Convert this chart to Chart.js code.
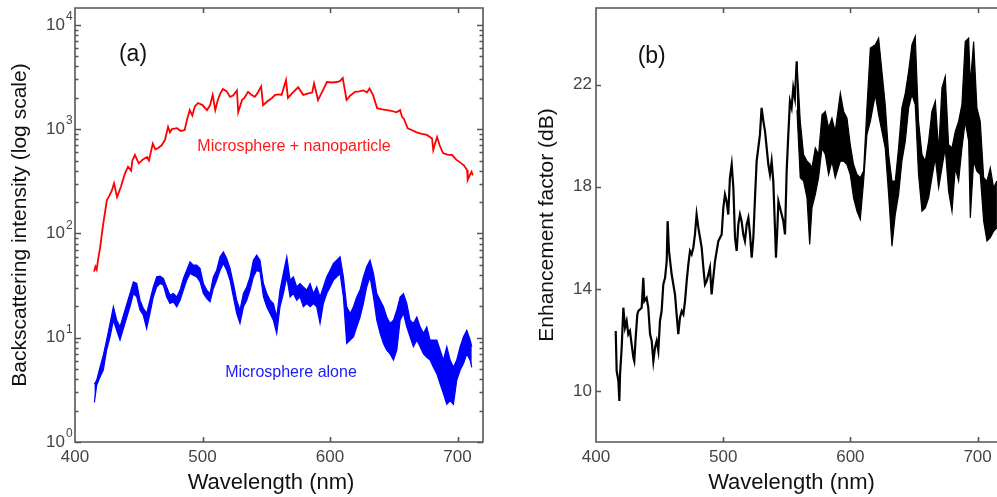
<!DOCTYPE html>
<html>
<head>
<meta charset="utf-8">
<script src="https://cdn.jsdelivr.net/npm/chart.js@4.4.1/dist/chart.umd.min.js"></script>
<style>
  html, body { margin: 0; padding: 0; background: #fff; overflow: hidden; }
  body { width: 997px; height: 497px; position: relative; }
  #panelA { position: absolute; left: 0; top: 0; }
  #panelB { position: absolute; left: 505px; top: 0; }
</style>
</head>
<body>
<canvas id="panelA" width="500" height="497"></canvas>
<canvas id="panelB" width="510" height="497"></canvas>
<script>
// ---- axis ticks ----
const wavelengthTicks = [400, 500, 600, 700];
const logExponents = [0, 1, 2, 3, 4];
const enhancementTicks = [10, 14, 18, 22];

// ---- (a) microsphere + nanoparticle (red) ----
const redWl = [415, 416, 417, 418, 419.6, 422, 425, 427, 429, 430.6, 433, 436, 439, 441.6, 444, 445, 447, 450, 453, 456.5,
  458, 461, 463, 465, 468, 470.6, 473, 474.5, 476, 480, 483, 486, 488, 490, 492, 494, 496.5, 500, 503.5, 506,
  508, 510, 512, 514, 516, 519, 521.6, 524, 527, 528, 531, 533, 535.7, 538, 541, 543, 546, 547.5, 551, 554.5,
  557, 560, 562, 565.5, 567, 571, 575, 579, 583, 586, 587.5, 590.6, 594, 597.6, 602, 605.5, 608, 610, 613, 616,
  619.6, 623, 626, 629, 631, 633.7, 637, 641, 644.7, 648, 652, 655, 656.5, 658, 661, 664, 668, 672, 676, 680,
  681, 682, 684, 686, 688.6, 692, 695.7, 699, 702, 705, 707.5, 708, 710, 711, 712];
const redVal = [43, 48, 45, 55, 72, 120, 209, 230, 260, 302, 223, 280, 370, 436, 400, 500, 565, 470, 510, 540,
  500, 727, 640, 655, 700, 790, 1050, 930, 1000, 1020, 960, 980, 1250, 1520, 1350, 1650, 1780, 1700, 1520, 1700,
  2130, 1520, 1900, 2200, 2420, 2300, 2040, 2100, 2350, 1450, 1900, 2000, 2280, 2150, 2040, 2200, 2570, 1700, 1850, 1990,
  2130, 2150, 2130, 2950, 1990, 2250, 2520, 2130, 2200, 2240, 2750, 1900, 2300, 2830, 2800, 2830, 2900, 3090, 1900, 2100,
  2280, 2300, 2350, 2250, 2450, 2130, 1590, 1550, 1520, 1500, 1450, 1520, 1310, 1250, 1020, 980, 930, 900, 880, 815,
  630, 700, 840, 700, 590, 570, 565, 510, 480, 450, 405, 325, 370, 390, 360];

// ---- (a) microsphere alone (blue): noisy trace kept as upper / lower envelope ----
const blueWl = [415.2, 417.0, 419.6, 422.2, 424.8, 427.5, 430.1, 432.7, 435.3, 439.2,
  443.1, 445.8, 448.4, 451.0, 453.6, 456.2, 458.8, 461.4, 464.1, 466.7,
  469.3, 471.9, 474.5, 477.1, 479.8, 482.4, 485.0, 487.6, 490.2, 492.8,
  495.5, 498.1, 500.7, 503.3, 505.9, 508.5, 511.1, 513.8, 516.4, 519.0,
  521.6, 524.2, 526.8, 529.4, 532.1, 534.7, 537.3, 539.9, 542.5, 545.1,
  547.8, 550.4, 553.0, 555.6, 558.2, 560.8, 563.4, 566.1, 568.7, 571.3,
  573.9, 576.5, 579.1, 581.8, 584.4, 587.0, 589.6, 592.2, 594.8, 597.4,
  600.1, 602.7, 605.3, 607.9, 610.5, 613.1, 615.8, 618.4, 621.0, 623.6,
  626.2, 628.8, 631.4, 634.1, 636.7, 639.3, 641.9, 644.5, 647.1, 649.8,
  652.4, 655.0, 657.6, 660.2, 662.8, 665.4, 668.1, 670.7, 673.3, 675.9,
  678.5, 681.1, 683.8, 686.4, 689.0, 691.6, 694.2, 696.8, 699.4, 702.1,
  704.7, 707.3, 709.9, 711.2];
const blueHi = [3.6, 3.9, 5.2, 6.8, 9.5, 13.7, 19.8, 14.7, 12.7, 18.4,
  26.5, 34.3, 33.1, 22.9, 19.1, 17.1, 22.9, 30.7, 38.3, 38.9,
  37.0, 30.7, 25.6, 26.5, 24.6, 28.6, 37.0, 44.4, 53.4, 49.6,
  49.6, 46.1, 33.1, 28.6, 26.5, 38.3, 44.4, 59.7, 66.6, 57.5,
  46.1, 33.1, 22.9, 18.4, 26.5, 30.7, 38.3, 55.4, 61.9, 55.4,
  33.1, 26.5, 22.9, 21.3, 15.8, 28.6, 41.3, 59.7, 35.6, 38.3,
  30.7, 33.1, 30.7, 28.6, 33.1, 26.5, 30.7, 24.6, 30.7, 38.3,
  44.4, 51.5, 55.4, 59.7, 38.3, 19.8, 17.1, 19.8, 24.6, 28.6,
  38.3, 47.8, 55.4, 41.3, 26.5, 22.9, 19.8, 15.8, 13.7, 14.7,
  18.4, 24.6, 26.5, 21.3, 14.7, 13.7, 15.8, 12.7, 11.0, 12.7,
  9.5, 9.5, 9.5, 7.6, 6.1, 8.2, 6.1, 5.2, 6.1, 8.2,
  10.2, 11.8, 9.5, 8.2];
const blueLo = [2.4, 3.5, 4.2, 4.9, 7.6, 10.2, 14.7, 11.8, 9.5, 13.7,
  19.8, 26.5, 24.6, 18.4, 16.4, 12.2, 17.1, 24.6, 30.7, 33.1,
  31.9, 24.6, 21.3, 22.1, 19.8, 22.9, 28.6, 35.6, 41.3, 39.8,
  38.3, 34.3, 26.5, 23.8, 22.1, 29.6, 35.6, 44.4, 51.5, 44.4,
  35.6, 24.6, 17.1, 13.7, 19.8, 22.9, 28.6, 38.3, 44.4, 42.8,
  24.6, 19.8, 17.1, 14.7, 11.0, 19.8, 26.5, 38.3, 24.6, 26.5,
  22.9, 24.6, 19.8, 21.3, 19.8, 21.3, 19.8, 13.7, 21.3, 26.5,
  30.7, 35.6, 38.3, 41.3, 24.6, 8.8, 9.5, 10.2, 12.7, 15.8,
  21.3, 30.7, 38.3, 24.6, 14.7, 11.0, 8.8, 7.6, 7.0, 6.1,
  7.6, 14.7, 17.1, 12.7, 10.2, 8.2, 9.5, 8.2, 7.0, 6.5,
  6.1, 5.2, 4.5, 3.6, 2.9, 2.3, 2.5, 2.3, 3.9, 4.9,
  5.65, 7.0, 6.1, 5.2];

// ---- (b) enhancement factor in dB ----
// short-wavelength side: a single noisy trace
const encTraceWl = [415.5, 416.25, 417.6, 418.35, 418.9, 420.2, 421.5, 422.8, 424.1, 425.4,
  426.7, 428.0, 429.4, 430.1, 431.2, 432.5, 433.3, 435.9, 437.2, 438.0,
  439.8, 441.1, 442.5, 443.8, 445.1, 446.4, 447.7, 449.0, 450.3, 451.6,
  452.9, 454.3, 455.6, 456.3, 457.4, 459.5, 460.8, 462.1, 463.4, 464.7,
  466.0, 467.4, 468.7, 470.0, 471.3, 472.6, 473.9, 475.2, 476.5, 477.8,
  479.1, 480.5, 481.8, 483.1, 484.4, 485.7, 487.0, 488.3, 489.6, 490.9,
  492.2, 493.6, 494.9, 496.2, 497.5, 498.8, 500.1, 501.4, 502.7, 504.0,
  505.3, 506.7, 508.0, 509.3, 510.6, 511.9, 513.2, 514.5, 515.8, 517.1,
  518.5, 519.8, 521.1, 522.4, 523.7, 525.0, 526.3, 527.6, 528.9, 530.2,
  531.6, 532.9, 534.2, 535.5, 536.8, 538.1, 539.4, 540.7, 541.5, 542.6,
  543.4, 544.7, 546.0, 547.3, 548.6, 549.9, 551.2, 552.5, 553.8, 555.1,
  556.4, 557.8];
const encTraceVal = [12.35, 10.78, 10.39, 9.61, 10.65, 11.70, 13.26, 12.48, 12.74, 12.22,
  12.35, 11.83, 11.30, 11.17, 12.09, 13.00, 13.13, 13.26, 14.43, 13.52,
  13.65, 13.26, 12.22, 11.96, 11.17, 11.70, 11.96, 11.57, 12.74, 13.13,
  14.17, 14.43, 15.09, 16.65, 15.48, 14.56, 14.17, 13.78, 13.00, 12.22,
  12.87, 13.13, 13.00, 13.52, 14.30, 14.96, 15.48, 15.35, 15.61, 16.13,
  16.91, 16.39, 16.00, 15.61, 14.83, 14.17, 14.30, 14.56, 14.83, 13.78,
  14.43, 15.09, 15.48, 15.87, 16.00, 16.13, 17.17, 17.69, 17.43, 16.91,
  18.35, 18.87, 17.96, 16.00, 15.48, 16.52, 16.91, 16.65, 16.13, 15.87,
  16.52, 16.78, 16.13, 15.22, 16.00, 17.56, 19.00, 19.52, 20.04, 21.09,
  20.56, 20.17, 19.52, 18.87, 18.48, 19.00, 18.22, 16.39, 15.22, 16.39,
  17.43, 17.17, 16.91, 16.65, 16.13, 18.61, 20.04, 21.35, 21.09, 21.87,
  21.48, 22.91];

// long-wavelength side: dense noise, kept as upper / lower envelope
const encWl = [558.0, 560.6, 563.2, 565.9, 568.0, 569.8, 572.4, 575.0, 577.7, 580.3,
  582.9, 585.5, 588.1, 592.1, 594.7, 597.3, 599.9, 602.5, 605.2, 607.8,
  610.4, 613.0, 615.7, 619.6, 622.2, 624.8, 627.4, 630.1, 632.7, 635.3,
  637.9, 640.5, 643.2, 645.8, 648.4, 651.0, 653.6, 656.3, 658.9, 661.5,
  664.1, 666.8, 669.4, 672.0, 674.6, 677.2, 679.9, 682.5, 685.1, 687.7,
  690.3, 693.0, 694.3, 696.9, 699.5, 702.1, 704.8, 707.4, 710.0, 712.6,
  715.2];
const encHi = [22.9, 20.56, 19.26, 19.0, 18.9, 18.74, 19.52, 19.26, 20.82, 20.95,
  20.3, 20.69, 20.17, 21.67, 20.95, 20.69, 19.65, 18.87, 18.48, 18.35,
  18.61, 21.09, 23.43, 23.56, 23.82, 22.52, 21.22, 19.26, 18.22, 18.22,
  19.52, 21.09, 21.67, 22.52, 23.56, 23.89, 20.56, 19.26, 19.0, 19.78,
  20.95, 21.35, 19.39, 21.87, 22.32, 19.65, 19.52, 20.17, 20.56, 21.22,
  23.69, 23.82, 22.0, 23.69, 21.09, 20.56, 18.35, 18.22, 18.74, 17.96,
  18.22];
const encLo = [21.0, 18.35, 18.22, 17.56, 15.74, 17.17, 17.69, 18.35, 19.52, 19.26,
  18.48, 19.0, 18.35, 19.0, 19.0, 18.87, 18.48, 17.56, 17.04, 16.72,
  18.22, 20.04, 20.56, 21.61, 20.82, 20.17, 19.52, 17.69, 15.67, 16.91,
  17.69, 19.0, 19.78, 21.09, 21.61, 21.22, 18.48, 17.04, 17.17, 17.56,
  18.35, 19.13, 17.96, 18.74, 19.52, 17.83, 17.04, 18.74, 18.22, 19.52,
  20.56, 19.78, 16.78, 19.0, 18.61, 18.48, 16.65, 15.87, 16.0, 16.26,
  16.39];

const FONT = 'Liberation Sans, Arial, sans-serif';
Chart.defaults.font.family = FONT;

const pts = (xs, ys) => xs.map((x, i) => ({ x: x, y: ys[i] }));

// frame, inward tick marks, text labels and x title drawn on top of the datasets
function framePlugin(cfg) {
    return {
        id: 'frame',
        afterDatasetsDraw(chart) {
            const { ctx, chartArea: a, scales: { x, y } } = chart;
            ctx.save();
            ctx.strokeStyle = '#555';
            ctx.lineWidth = 1.6;
            ctx.beginPath();
            ctx.rect(a.left, a.top, a.right - a.left, a.bottom - a.top);

            wavelengthTicks.slice(1).forEach(v => {
                const px = Math.round(x.getPixelForValue(v)) + 0.5;
                ctx.moveTo(px, a.bottom); ctx.lineTo(px, a.bottom - 5);
                ctx.moveTo(px, a.top); ctx.lineTo(px, a.top + 5);
            });
            cfg.yTicks.forEach(t => {
                const py = Math.round(y.getPixelForValue(t.v)) + 0.5;
                ctx.moveTo(a.left, py); ctx.lineTo(a.left + t.len, py);
                ctx.moveTo(a.right, py); ctx.lineTo(a.right - t.len, py);
            });
            ctx.stroke();

            if (cfg.logLabels) {
                ctx.fillStyle = '#444';
                logExponents.forEach(e => {
                    const py = y.getPixelForValue(Math.pow(10, e));
                    ctx.font = '17px ' + FONT;
                    ctx.textAlign = 'right';
                    ctx.textBaseline = 'middle';
                    ctx.fillText('10', a.left - 10, py);
                    ctx.font = '12px ' + FONT;
                    ctx.textAlign = 'left';
                    ctx.fillText(String(e), a.left - 9, py - 8);
                });
            }

            cfg.notes.forEach(n => {
                ctx.font = n.size + 'px ' + FONT;
                ctx.fillStyle = n.color;
                ctx.textAlign = 'center';
                ctx.textBaseline = 'middle';
                ctx.fillText(n.text, x.getPixelForValue(n.x), y.getPixelForValue(n.y));
            });

            ctx.font = '22px ' + FONT;
            ctx.fillStyle = '#111';
            ctx.textAlign = 'center';
            ctx.textBaseline = 'middle';
            ctx.fillText('Wavelength (nm)', (a.left + a.right) / 2 - 8, a.bottom + 41);
            ctx.restore();
        }
    };
}

function xScale() {
    return {
        type: 'linear',
        min: 400,
        max: 720,
        afterBuildTicks: s => { s.ticks = wavelengthTicks.map(v => ({ value: v })); },
        afterFit: s => { s.height = 55; s.paddingLeft = 0; s.paddingRight = 0; },
        grid: { display: false, drawTicks: false },
        border: { display: false },
        ticks: { color: '#444', font: { size: 17 }, padding: 5, maxRotation: 0 }
    };
}

const baseOptions = {
    responsive: false,
    animation: false,
    plugins: { legend: { display: false }, tooltip: { enabled: false } },
    elements: { point: { radius: 0 }, line: { tension: 0 } }
};

// ===== PANEL (a) =====
const logMinor = [];
logExponents.forEach(e => {
    logMinor.push({ v: Math.pow(10, e), len: 6 });
    if (e < 4) for (let m = 2; m <= 9; m++) logMinor.push({ v: m * Math.pow(10, e), len: 3.5 });
});

new Chart(document.getElementById('panelA'), {
    type: 'line',
    data: {
        datasets: [
            { data: pts(redWl, redVal), borderColor: '#ff0000', borderWidth: 1.8, fill: false },
            { data: pts(blueWl, blueHi), borderColor: '#0000ff', borderWidth: 1.2, fill: false },
            { data: pts(blueWl, blueLo), borderColor: '#0000ff', borderWidth: 1.2, backgroundColor: '#0000ff', fill: '-1' }
        ]
    },
    options: {
        ...baseOptions,
        layout: { padding: { top: 8, right: 17, left: 0, bottom: 0 } },
        scales: {
            x: xScale(),
            y: {
                type: 'logarithmic',
                min: 1,
                max: 14500,
                afterFit: s => { s.width = 75; s.paddingTop = 0; s.paddingBottom = 0; },
                grid: { display: false, drawTicks: false },
                border: { display: false },
                ticks: { display: false },
                title: {
                    display: true,
                    text: 'Backscattering intensity (log scale)',
                    color: '#111',
                    font: { size: 21 },
                    padding: { top: 8, bottom: 0 }
                }
            }
        }
    },
    plugins: [framePlugin({
        yTicks: logMinor,
        logLabels: true,
        notes: [
            { text: '(a)', x: 445.5, y: 5140, size: 23, color: '#111' },
            { text: 'Microsphere + nanoparticle', x: 571.8, y: 673, size: 16, color: '#ff1a1a' },
            { text: 'Microsphere alone', x: 569.4, y: 4.67, size: 16, color: '#1a1aff' }
        ]
    })]
});

// ===== PANEL (b) =====
new Chart(document.getElementById('panelB'), {
    type: 'line',
    data: {
        datasets: [
            { data: pts(encTraceWl, encTraceVal), borderColor: '#000', borderWidth: 2.2, fill: false },
            { data: pts(encWl, encHi), borderColor: '#000', borderWidth: 1.2, fill: false },
            { data: pts(encWl, encLo), borderColor: '#000', borderWidth: 1.2, backgroundColor: '#000', fill: '-1' }
        ]
    },
    options: {
        ...baseOptions,
        layout: { padding: { top: 8, right: 12, left: 0, bottom: 0 } },
        scales: {
            x: xScale(),
            y: {
                type: 'linear',
                min: 8,
                max: 25,
                afterBuildTicks: s => { s.ticks = enhancementTicks.map(v => ({ value: v })); },
                afterFit: s => { s.width = 91; s.paddingTop = 0; s.paddingBottom = 0; },
                grid: { display: false, drawTicks: false },
                border: { display: false },
                ticks: { color: '#444', font: { size: 17 }, padding: 4 },
                title: {
                    display: true,
                    text: 'Enhancement factor (dB)',
                    color: '#111',
                    font: { size: 21 },
                    padding: { top: 30, bottom: 0 }
                }
            }
        }
    },
    plugins: [framePlugin({
        yTicks: enhancementTicks.map(v => ({ v: v, len: 5 })),
        logLabels: false,
        notes: [
            { text: '(b)', x: 443.8, y: 23.1, size: 23, color: '#111' }
        ]
    })]
});
</script>
</body>
</html>
